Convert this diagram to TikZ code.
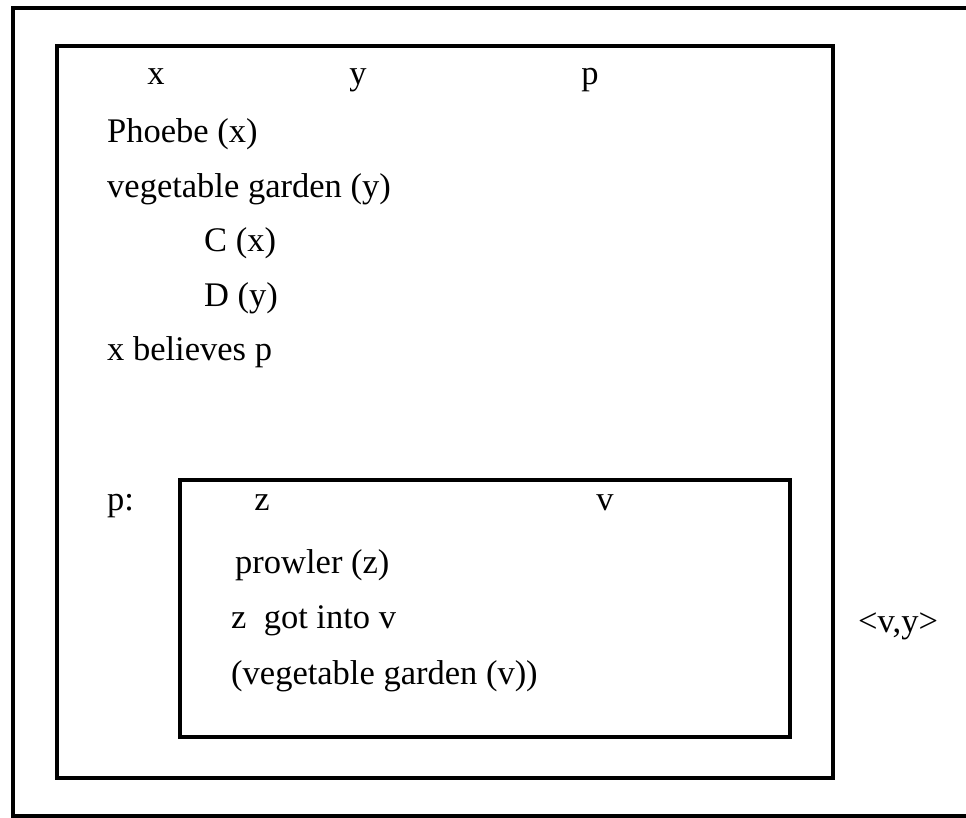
\documentclass[tikz,border=0pt]{standalone}
\usepackage{fontspec}
\setmainfont{Liberation Serif}
\usepackage{tikz}
\usetikzlibrary{positioning}

\begin{document}
\begin{tikzpicture}[
  x=1pt, y=-1pt,
  font=\fontsize{34.5}{40}\selectfont,
  frame/.style={draw=black,line width=3.5pt},
  box/.style={draw=black,line width=4.5pt},
  lbl/.style={anchor=base west,inner sep=0pt},
  var/.style={anchor=base,inner sep=0pt}
]
\useasboundingbox (0,0) rectangle (966,818);

% frames
\coordinate (outerNW) at (13,8);
\coordinate (outerSE) at (1000,816);
\coordinate (mainNW) at (57,46);
\coordinate (mainSE) at (833,778);
\coordinate (subNW) at (180,480);
\coordinate (subSE) at (790,737);
\draw[frame] (outerNW) rectangle (outerSE);
\draw[box] (mainNW) rectangle (mainSE);
\draw[box] (subNW) rectangle (subSE);

% outer universe
\node[var] (vx) at (156,85) {x};
\node[var] (vy) at (358,85) {y};
\node[var] (vp) at (590,85) {p};
\node[lbl] (phoebe) at (107,143) {Phoebe (x)};
\node[lbl] (garden) at (107,198) {vegetable garden (y)};
\node[lbl] (cx) at (204,252) {C (x)};
\node[lbl] (dy) at (204,306) {D (y)};
\node[lbl] (believes) at (107,360) {x believes p};

% embedded box p
\node[lbl] (plabel) at (107,510) {p:};
\node[var] (vz) at (262,510) {z};
\node[var] (vv) at (605,510) {v};
\node[lbl] (prowler) at (235,573) {prowler (z)};
\node[lbl] (gotinto) at (231,628) {z\ \ got into v};
\node[lbl] (gardenv) at (231,684) {(vegetable garden (v))};

\node[lbl] (anchor) at (858,632) {<v,y>};
\end{tikzpicture}
\end{document}
